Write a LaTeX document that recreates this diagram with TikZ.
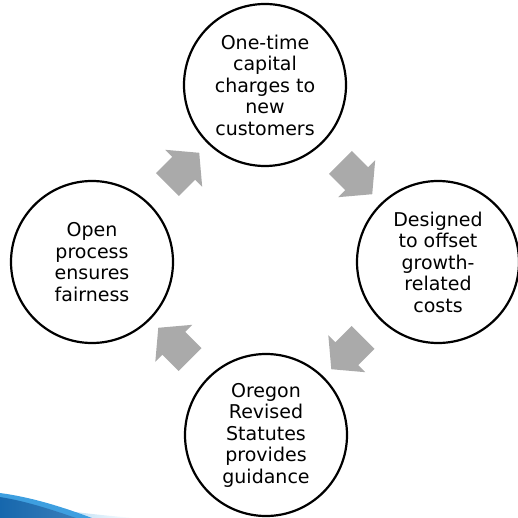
\documentclass[tikz,border=0pt]{standalone}
\usepackage{fontspec}
\setmainfont{DejaVu Sans}
\usetikzlibrary{shapes.arrows,calc,positioning}
\definecolor{arrowgray}{HTML}{AAAAAA}
\definecolor{swooshblue}{HTML}{1667AD}
\definecolor{swooshlight}{HTML}{3E9FE0}

\begin{document}
\begin{tikzpicture}
	[x=1pt,y=-1pt,
	step circle/.style={circle,draw=black,line width=2.2pt,fill=white,inner sep=0pt,minimum size=162pt,align=center,font=\fontsize{19}{21.5}\selectfont},
	cycle arrow/.style={single arrow,fill=arrowgray,draw=none,inner xsep=0pt,inner ysep=16pt,minimum height=45pt,single arrow head extend=10pt,single arrow tip angle=100}]
	\useasboundingbox (0,0) rectangle (517,518);
	% blue swoosh at the bottom
	\shade [left color=swooshlight!40,right color=white] (60,510) .. controls (90,514) and (110,516) .. (135,518) -- (60,518) -- cycle;
	\fill [swooshlight] (0,493) .. controls (30,497) and (60,506) .. (92,518) -- (0,518) -- cycle;
	\shade [left color=swooshblue,right color=swooshblue!85] (0,497) .. controls (25,501) and (50,509) .. (76,518) -- (0,518) -- cycle;
	% the four steps
	\node (charges) at (265,85) [step circle] {One-time\\capital\\charges to\\new\\customers};
	\node (offset) at (438,262) [step circle] {Designed\\to offset\\growth-\\related\\costs};
	\node (statutes) at (266,435) [step circle] {Oregon\\Revised\\Statutes\\provides\\guidance};
	\node (fairness) at (92,262) [step circle] {Open\\process\\ensures\\fairness};
	% arrows between them
	\node (toCharges) at ($(fairness)!0.5!(charges)$) [cycle arrow,rotate=45] {};
	\node (toOffset) at ($(charges)!0.5!(offset)$) [cycle arrow,rotate=-45] {};
	\node (toStatutes) at ($(offset)!0.5!(statutes)$) [cycle arrow,rotate=-135] {};
	\node (toFairness) at ($(statutes)!0.5!(fairness)$) [cycle arrow,rotate=135] {};
\end{tikzpicture}
\end{document}
